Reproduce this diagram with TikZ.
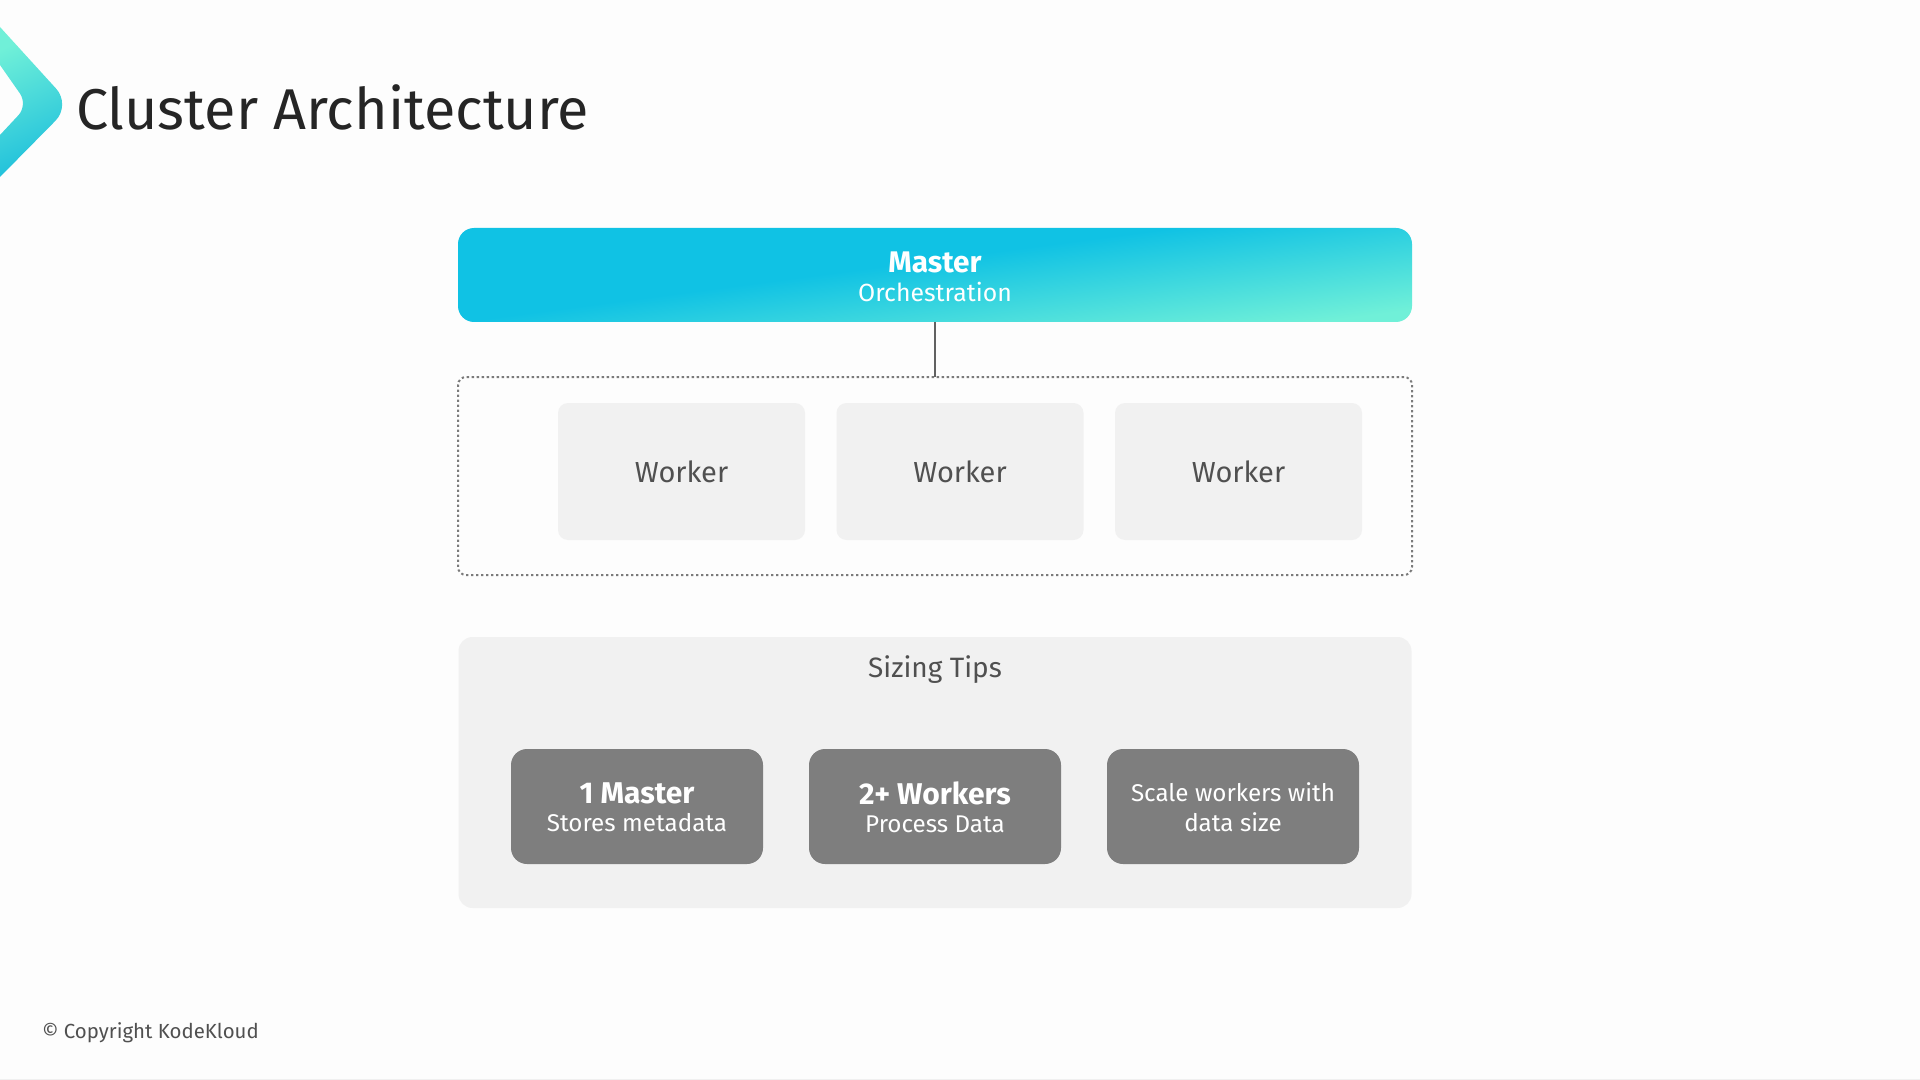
\documentclass[tikz,border=0pt]{standalone}
\usepackage{fontspec}
\setmainfont{Fira Sans}
\definecolor{bgc}{HTML}{FDFDFD}
\definecolor{panelc}{HTML}{F1F1F1}
\definecolor{tipc}{HTML}{7E7E7E}
\definecolor{inkc}{HTML}{505050}
\definecolor{titlec}{HTML}{252525}
\definecolor{cyanc}{HTML}{10C2E4}
\definecolor{mintc}{HTML}{70F0D8}
\definecolor{logoend}{HTML}{1CBEDC}
\pgfdeclareverticalshading{mastershade}{100bp}{color(0bp)=(mintc); color(25bp)=(mintc); color(54bp)=(cyanc); color(100bp)=(cyanc)}
\newcommand{\headtext}{\fontsize{14.9pt}{15.3pt}\selectfont\bfseries}
\newcommand{\subtext}{\fontsize{12.4pt}{15.3pt}\selectfont}
\newcommand{\tiphead}{\fontsize{15pt}{15.3pt}\selectfont\bfseries}
\newcommand{\tipsub}{\fontsize{12.1pt}{15.3pt}\selectfont}
\tikzset{
  boxbase/.style={inner sep=0pt, outer sep=0pt, align=center},
  masterbox/.style={boxbase, shading=mastershade, shading angle=7.5, rounded corners=8pt, minimum width=477pt, minimum height=47pt},
  groupbox/.style={boxbase, draw=black!52, line width=1pt, dash pattern=on 1.2pt off 1.3pt, rounded corners=4pt, minimum width=477pt, minimum height=99pt},
  workerbox/.style={boxbase, fill=panelc, rounded corners=5pt, minimum width=123.5pt, minimum height=68.5pt, text=inkc, font=\fontsize{14.5pt}{16pt}\selectfont},
  tipspanel/.style={boxbase, fill=panelc, rounded corners=7pt, minimum width=476.5pt, minimum height=135.5pt},
  tipbox/.style={boxbase, fill=tipc, rounded corners=8pt, minimum width=126pt, minimum height=57.5pt},
  link/.style={draw=black!62, line width=0.8pt},
  plain/.style={inner sep=0pt, outer sep=0pt},
  masterlabelstyle/.style={plain, align=center, text=white, font=\fontsize{12.4pt}{14.7pt}\selectfont},
  tiplabelstyle/.style={plain, align=center, text=white, font=\fontsize{12.4pt}{14.1pt}\selectfont},
  tipplainlabel/.style={plain, align=center, text=white, font=\fontsize{12.4pt}{15pt}\selectfont}
}
\begin{document}
\begin{tikzpicture}[x=0.5pt,y=-0.5pt]
\fill[bgc] (0,0) rectangle (1920,1080);
\useasboundingbox (0,0) rectangle (1920,1080);
\fill[black!6] (0,1078.5) rectangle (1920,1080);
% logo
\shade[top color=mintc, bottom color=logoend, shading angle=25, rounded corners=0pt]
  (0,27) [rounded corners=11pt] -- (71,105) [rounded corners=0pt] -- (0,177) -- (0,135) [rounded corners=7pt] -- (28,105) [rounded corners=0pt] -- (0,65) -- cycle;
\node[plain, anchor=base west, text=titlec, font=\fontsize{28.75pt}{32pt}\selectfont] (title) at (76,130) {Cluster Architecture};
\node[masterbox] (master) at (935,275) {};
\node[masterlabelstyle] (masterlabel) at (935,277) {{\headtext Master}\\{\subtext Orchestration}};
\node[groupbox] (group) at (935,476) {};
\draw[link] (master.south) -- (group.north);
\node[workerbox] (w1) at (681.5,471.5) {Worker};
\node[workerbox] (w2) at (960,471.5) {Worker};
\node[workerbox] (w3) at (1238.5,471.5) {Worker};
\node[tipspanel] (tips) at (935,772.5) {};
\node[plain, text=inkc, font=\fontsize{14pt}{16pt}\selectfont] (tipstitle) at (935,669.5) {Sizing Tips};
\node[tipbox] (t1) at (637,806.5) {};
\node[tipbox] (t2) at (935,806.5) {};
\node[tipbox] (t3) at (1233,806.5) {};
\node[tiplabelstyle] (t1label) at (637,807) {{\tiphead 1 Master}\\{\tipsub Stores metadata}};
\node[tiplabelstyle] (t2label) at (935,807) {{\tiphead 2+ Workers}\\{\tipsub Process Data}};
\node[tipplainlabel] (t3label) at (1233,807.5) {{\tipsub Scale workers with}\\{\tipsub data size}};
\node[plain, anchor=base west, text=inkc, font=\fontsize{10.2pt}{12pt}\selectfont] (copy) at (42,1038) {© Copyright KodeKloud};
\end{tikzpicture}
\end{document}
